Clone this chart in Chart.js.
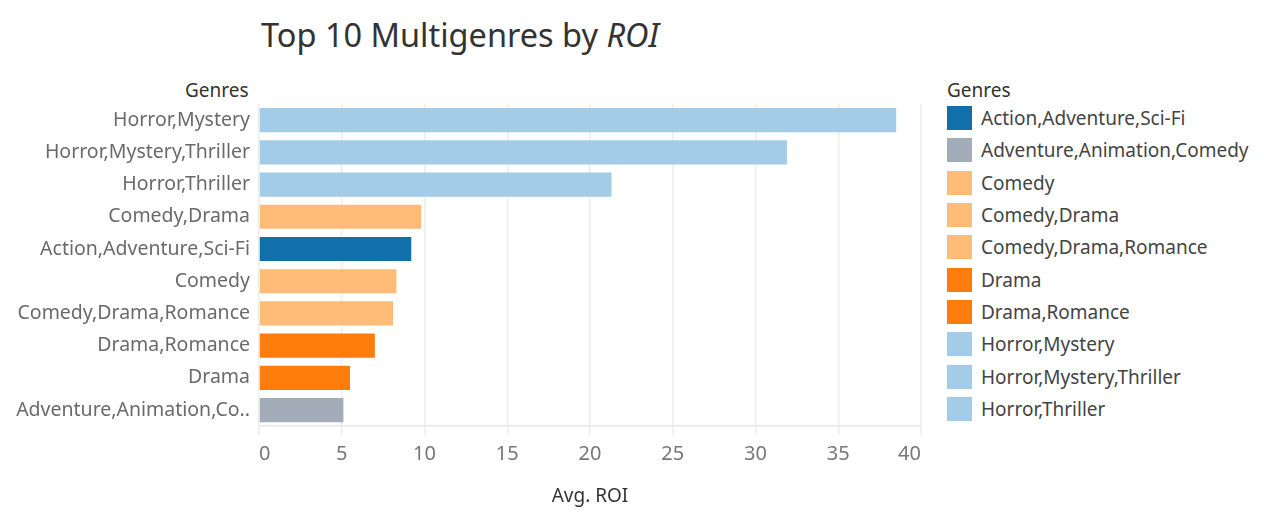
<!DOCTYPE html>
<html>
<head>
<meta charset="utf-8">
<script src="https://cdn.jsdelivr.net/npm/chart.js@4"></script>
<style>
  html, body { margin: 0; padding: 0; background: #fff; }
  body { width: 1264px; height: 520px; position: relative; overflow: hidden; font-family: "Noto Sans", sans-serif; }
  #titulo { position: absolute; left: 261px; top: 12px; font-size: 32.5px; color: #333; white-space: nowrap; }
  #eixoGeneros { position: absolute; left: 185px; top: 77px; font-size: 19px; color: #333; }
  #legenda { position: absolute; left: 947px; top: 77px; color: #444; }
  #legenda .titulo { font-size: 19px; color: #333; height: 25px; }
  #legenda .item { display: flex; align-items: center; height: 32.3px; font-size: 19px; white-space: nowrap; }
  #legenda .caixa { width: 25px; height: 24px; margin-right: 9px; flex: none; }
  #grafico { position: absolute; left: 0; top: 0; }
</style>
</head>
<body>
<div id="titulo">Top 10 Multigenres by <i>ROI</i></div>
<div id="eixoGeneros">Genres</div>
<div id="legenda"></div>
<canvas id="grafico" width="1264" height="520"></canvas>
<script>
// Géneros pela ordem das barras (de cima para baixo)
const generos = [
    'Horror,Mystery', 'Horror,Mystery,Thriller', 'Horror,Thriller', 'Comedy,Drama',
    'Action,Adventure,Sci-Fi', 'Comedy', 'Comedy,Drama,Romance', 'Drama,Romance',
    'Drama', 'Adventure,Animation,Comedy'
];
// ROI médio de cada género
const roiMedio = [38.5, 31.9, 21.3, 9.8, 9.2, 8.3, 8.1, 7.0, 5.5, 5.1];

// Legenda (ordem alfabética) e cores
const generosLegenda = [
    'Action,Adventure,Sci-Fi', 'Adventure,Animation,Comedy', 'Comedy', 'Comedy,Drama',
    'Comedy,Drama,Romance', 'Drama', 'Drama,Romance', 'Horror,Mystery',
    'Horror,Mystery,Thriller', 'Horror,Thriller'
];
const coresLegenda = [
    '#1170aa', '#a3acb9', '#ffbc79', '#ffbc79', '#ffbc79',
    '#fc7d0b', '#fc7d0b', '#a3cce9', '#a3cce9', '#a3cce9'
];
const ticksX = [0, 5, 10, 15, 20, 25, 30, 35, 40];

// Cor de cada barra a partir da legenda
const coresBarras = generos.map(g => coresLegenda[generosLegenda.indexOf(g)]);

// Monta a legenda em HTML
const legenda = document.getElementById('legenda');
legenda.innerHTML = '<div class="titulo">Genres</div>' + generosLegenda.map((g, i) =>
    '<div class="item"><span class="caixa" style="background:' + coresLegenda[i] + '"></span>' + g + '</div>'
).join('');

new Chart(document.getElementById('grafico'), {
    type: 'bar',
    data: {
        labels: generos,
        datasets: [{
            label: 'Avg. ROI',
            data: roiMedio,
            backgroundColor: coresBarras,
            barPercentage: 0.75,
            categoryPercentage: 1
        }]
    },
    options: {
        indexAxis: 'y',
        responsive: false,
        animation: false,
        layout: { padding: { left: 0, right: 343, top: 104, bottom: 12 } },
        plugins: { legend: { display: false }, tooltip: { enabled: false } },
        scales: {
            y: {
                afterFit: function(escala) { escala.width = 259; },
                grid: { display: false, drawTicks: false },
                border: { display: false },
                ticks: {
                    color: '#6a6a6a',
                    padding: 9,
                    font: { family: 'Noto Sans', size: 19.5 },
                    callback: function(valor) {
                        const nome = this.getLabelForValue(valor);
                        return nome.length > 24 ? nome.slice(0, 22) + '..' : nome;
                    }
                }
            },
            x: {
                min: 0,
                max: 40,
                afterBuildTicks: function(escala) { escala.ticks = ticksX.map(v => ({ value: v })); },
                grid: { color: '#ededed', lineWidth: 1.5, tickLength: 9 },
                border: { color: '#e6e6e6', width: 1.5 },
                ticks: {
                    color: '#777',
                    align: 'inner',
                    padding: 7,
                    font: { family: 'Noto Sans', size: 20 }
                },
                title: {
                    display: true,
                    text: 'Avg. ROI',
                    color: '#333',
                    padding: { top: 12, bottom: 0 },
                    font: { family: 'Noto Sans', size: 19 }
                }
            }
        }
    }
});
</script>
</body>
</html>
